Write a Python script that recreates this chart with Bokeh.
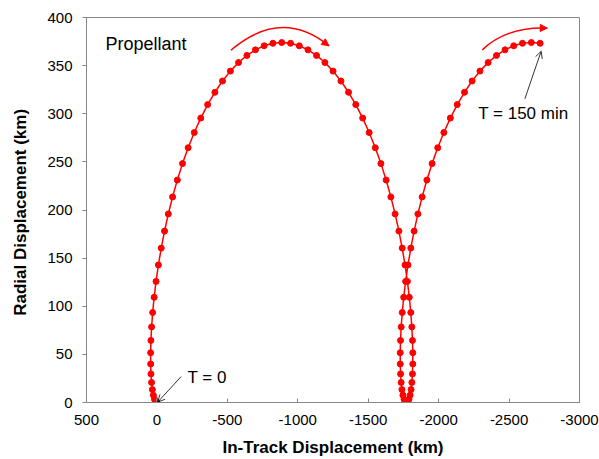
from bokeh.plotting import figure
from bokeh.models import Range1d, FixedTicker, Arrow, NormalHead, OpenHead, Label
from bokeh.embed import file_html
from bokeh.resources import INLINE

# Trajectory samples (1.5-minute steps, T = 0 ... 150 min)
in_track = [
    0, 8.9, 17.5, 25.4, 32.4, 38.1, 42.2, 44.5, 44.7, 42.6, 37.8, 30.3, 19.9, 6.3,
    -10.5, -30.5, -54.0, -80.8, -111.1, -144.7, -181.6, -221.8, -265.0, -311.2,
    -360.2, -411.7, -465.6, -521.6, -579.4, -638.8, -699.5, -761.1, -823.3, -885.9,
    -948.5, -1010.8, -1072.4, -1133.1, -1192.5, -1250.3, -1306.3, -1360.2, -1411.7,
    -1460.7, -1506.9, -1550.1, -1590.3, -1627.2, -1660.8, -1691.0, -1717.9, -1741.3,
    -1761.4, -1778.2, -1791.7, -1802.2, -1809.7, -1814.4, -1816.6, -1816.4, -1814.1,
    -1809.9, -1804.2, -1797.3, -1789.3, -1780.8, -1771.9,
    -1763.0, -1754.4, -1746.5, -1739.5, -1733.8, -1729.7, -1727.4, -1727.2, -1729.3,
    -1734.0, -1741.5, -1752.0, -1765.5, -1782.3, -1802.4, -1825.8, -1852.7, -1882.9,
    -1916.5, -1953.5, -1993.6, -2036.9, -2083.1, -2132.0, -2183.6, -2237.4, -2293.4,
    -2351.3, -2410.7, -2471.3, -2532.9, -2595.2, -2657.8, -2720.4,
]
radial = [
    0, 0.8, 3.4, 7.6, 13.4, 20.8, 29.7, 40.0, 51.7, 64.5, 78.5, 93.5, 109.3, 125.8,
    142.9, 160.4, 178.1, 195.9, 213.6, 231.1, 248.2, 264.7, 280.5, 295.5, 309.5,
    322.3, 334.0, 344.3, 353.2, 360.6, 366.4, 370.6, 373.2, 374.0,
    373.2, 370.6, 366.4, 360.6, 353.2, 344.3, 334.0, 322.3, 309.5, 295.5, 280.5,
    264.7, 248.2, 231.1, 213.6, 195.9, 178.1, 160.4, 142.9, 125.8, 109.3, 93.5,
    78.5, 64.5, 51.7, 40.0, 29.7, 20.8, 13.4, 7.6, 3.4, 0.8, 0,
    0.8, 3.4, 7.6, 13.4, 20.8, 29.7, 40.0, 51.7, 64.5, 78.5, 93.5, 109.3, 125.8,
    142.9, 160.4, 178.1, 195.9, 213.6, 231.1, 248.2, 264.7, 280.5, 295.5, 309.5,
    322.3, 334.0, 344.3, 353.2, 360.6, 366.4, 370.6, 373.2, 374.0, 373.2,
]

x_ticks = [500, 0, -500, -1000, -1500, -2000, -2500, -3000]
x_tick_labels = ["500", "0", "-500", "-1000", "-1500", "-2000", "-2500", "-3000"]
y_ticks = [0, 50, 100, 150, 200, 250, 300, 350, 400]
y_tick_labels = ["0", "50", "100", "150", "200", "250", "300", "350", "400"]

FONT = "Liberation Sans"
GRAY = "#868686"
RED = "#FF0000"

p = figure(width=599, height=459, output_backend="svg", toolbar_location=None,
           x_range=Range1d(500, -3000), y_range=Range1d(0, 400),
           min_border_left=86, min_border_right=20, min_border_top=17,
           min_border_bottom=57)
p.xgrid.visible = False
p.ygrid.visible = False
p.outline_line_color = GRAY
p.outline_line_width = 1
p.background_fill_color = "white"
p.border_fill_color = "white"

p.xaxis.ticker = FixedTicker(ticks=x_ticks)
p.xaxis.major_label_overrides = {t: s for t, s in zip(x_ticks, x_tick_labels)}
p.yaxis.ticker = FixedTicker(ticks=y_ticks)
p.yaxis.major_label_overrides = {t: s for t, s in zip(y_ticks, y_tick_labels)}

for ax in (p.xaxis, p.yaxis):
    ax.axis_line_color = GRAY
    ax.major_tick_line_color = GRAY
    ax.minor_tick_line_color = None
    ax.major_label_text_font = FONT
    ax.major_label_text_font_size = "15px"
    ax.major_label_text_color = "black"
    ax.axis_label_text_font = FONT
    ax.axis_label_text_font_size = "17px"
    ax.axis_label_text_font_style = "bold"
    ax.axis_label_text_color = "black"

p.xaxis.major_tick_in = 4
p.xaxis.major_tick_out = 0
p.xaxis.major_label_standoff = 12
p.xaxis.axis_label = "In-Track Displacement (km)"
p.xaxis.axis_label_standoff = 10

p.yaxis.major_tick_in = 0
p.yaxis.major_tick_out = 4
p.yaxis.major_label_standoff = 10
p.yaxis.axis_label = "Radial  Displacement (km)"
p.yaxis.axis_label_standoff = 14

# trajectory
p.line(in_track, radial, line_color=RED, line_width=1.5)
p.scatter(in_track, radial, size=6, fill_color=RED, line_color=RED)

# curved direction arrows (quadratic curves + heads)
p.quadratic(x0=[-525, -2310], y0=[366, 366.4], x1=[-1221, -2771], y1=[370.6, 388.9],
            cx=[-883, -2482], cy=[410.6, 390.6], line_color=RED, line_width=1.5)
p.add_layout(Arrow(end=NormalHead(size=7, fill_color=RED, line_color=RED),
                   x_start=-1194, y_start=373.5, x_end=-1221, y_end=370.6,
                   line_color=RED, line_width=1.5))
p.add_layout(Arrow(end=NormalHead(size=7, fill_color=RED, line_color=RED),
                   x_start=-2734, y_start=389.1, x_end=-2771, y_end=388.9,
                   line_color=RED, line_width=1.5))

# annotations
p.add_layout(Label(x=365, y=372.7, text="Propellant", text_font=FONT,
                   text_font_size="18px", text_baseline="middle", text_color="black"))
p.add_layout(Label(x=-217, y=26.3, text="T = 0", text_font=FONT,
                   text_font_size="17px", text_baseline="middle", text_color="black"))
p.add_layout(Label(x=-2281, y=300.6, text="T = 150 min", text_font=FONT,
                   text_font_size="17px", text_baseline="middle", text_color="black"))
p.add_layout(Arrow(end=OpenHead(size=7, line_width=0.8, line_color="black"),
                   x_start=-172.5, y_start=27, x_end=-6, y_end=0.5,
                   line_color="black", line_width=0.8))
p.add_layout(Arrow(end=OpenHead(size=7, line_width=0.8, line_color="black"),
                   x_start=-2612, y_start=315.5, x_end=-2728, y_end=365,
                   line_color="black", line_width=0.8))

open("out.html", "w").write(file_html(p, INLINE))
